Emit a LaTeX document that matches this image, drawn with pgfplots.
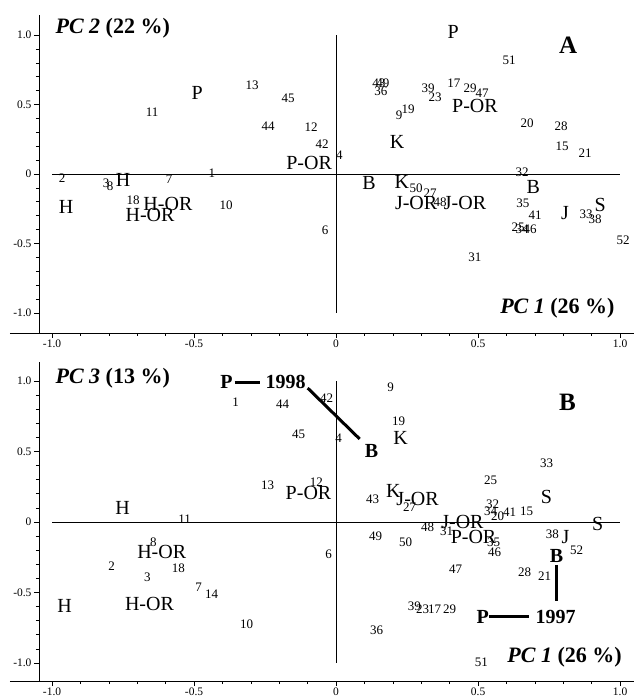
\documentclass[border=0pt]{standalone}
\usepackage{fontspec}
\setmainfont{Liberation Serif}
\usepackage{pgfplots}
\pgfplotsset{compat=1.18}
\usepackage{pgfplotstable}

\pgfplotstableread{
x y label
-0.648 0.446 11
-0.296 0.640 13
-0.169 0.547 45
-0.239 0.345 44
-0.088 0.338 12
-0.049 0.216 42
0.012 0.137 4
0.609 0.820 51
0.151 0.655 43
0.165 0.655 49
0.158 0.597 36
0.324 0.619 39
0.349 0.554 23
0.415 0.655 17
0.472 0.619 29
0.514 0.583 47
0.222 0.424 9
0.254 0.468 19
0.673 0.367 20
0.792 0.345 28
0.796 0.201 15
0.877 0.151 21
0.655 0.014 32
0.282 -0.101 50
0.331 -0.137 27
0.366 -0.201 48
0.658 -0.209 35
0.701 -0.295 41
0.880 -0.288 33
0.912 -0.324 38
0.641 -0.381 25
0.655 -0.396 34
0.683 -0.396 46
-0.039 -0.403 6
1.011 -0.475 52
0.489 -0.597 31
-0.965 -0.029 2
-0.810 -0.065 3
-0.796 -0.086 8
-0.588 -0.036 7
-0.437 0.007 1
-0.715 -0.187 18
-0.387 -0.223 10
}\numsA

\pgfplotstableread{
x y label
-0.489 0.583 P
-0.095 0.079 P-OR
0.412 1.022 P
0.489 0.489 P-OR
0.215 0.230 K
0.116 -0.065 B
0.232 -0.058 K
0.282 -0.209 J-OR
0.454 -0.209 J-OR
0.694 -0.094 B
0.806 -0.281 J
0.930 -0.223 S
-0.750 -0.043 H
-0.951 -0.237 H
-0.592 -0.216 H-OR
-0.655 -0.295 H-OR
}\letsA

\pgfplotstableread{
x y label
-0.354 0.851 1
-0.188 0.837 44
-0.132 0.624 45
-0.033 0.879 42
0.009 0.596 4
0.192 0.957 9
0.220 0.716 19
-0.241 0.262 13
-0.069 0.284 12
-0.533 0.021 11
0.741 0.418 33
0.544 0.298 25
0.129 0.163 43
0.259 0.106 27
0.551 0.128 32
0.544 0.078 34
0.569 0.043 20
0.611 0.071 41
0.671 0.078 15
0.322 -0.035 48
0.389 -0.064 31
0.555 -0.142 35
0.558 -0.213 46
0.762 -0.085 38
0.847 -0.199 52
0.139 -0.099 49
0.245 -0.142 50
-0.026 -0.227 6
0.421 -0.333 47
0.664 -0.355 28
0.734 -0.383 21
0.276 -0.596 39
0.305 -0.617 23
0.347 -0.617 17
0.400 -0.617 29
0.143 -0.766 36
0.512 -0.993 51
-0.643 -0.142 8
-0.790 -0.312 2
-0.555 -0.326 18
-0.664 -0.390 3
-0.484 -0.461 7
-0.438 -0.511 14
-0.315 -0.723 10
}\numsB

\pgfplotstableread{
x y label
0.227 0.596 K
-0.097 0.206 P-OR
-0.752 0.099 H
0.202 0.220 K
0.287 0.163 J-OR
0.741 0.177 S
0.445 0.000 J-OR
0.484 -0.106 P-OR
0.808 -0.106 J
0.921 -0.014 S
-0.614 -0.213 H-OR
-0.956 -0.596 H
-0.657 -0.582 H-OR
}\letsB

\pgfplotstableread{
x y label
-0.386 0.993 P
-0.178 0.993 1998
0.125 0.504 B
0.776 -0.241 B
0.516 -0.674 P
0.773 -0.674 1997
}\boldB

\pgfplotsset{
  pcaaxis/.style={
    scale only axis, width=595pt,
    xmin=-1.046, xmax=1.049,
    axis x line*=bottom, axis y line*=left,
    xtick={-1,-0.5,0,0.5,1}, xticklabels={-1.0,-0.5,0,0.5,1.0},
    ytick={-1,-0.5,0,0.5,1}, yticklabels={-1.0,-0.5,0,0.5,1.0},
    minor tick num=4, tick align=outside,
    major tick length=5pt, minor tick length=3pt,
    tick label style={font=\fontsize{11.5}{11.5}\selectfont},
    xticklabel style={yshift=1.5pt},
    yticklabel style={xshift=1pt},
    axis line style={line width=0.8pt},
    tick style={line width=0.6pt, black},
    clip=false,
  },
  lab/.style={only marks, mark=*, mark size=0pt, mark options={draw=none, fill=none},
    nodes near coords, point meta=explicit symbolic, color=black,
    nodes near coords style={anchor=center, inner sep=0pt, text=black, font=#1}},
}

\begin{document}
\begin{tikzpicture}
\path[use as bounding box] (0,0) rectangle (634pt,698pt);
% Panel A
\begin{axis}[pcaaxis, at={(39pt,365pt)}, anchor=south west, height=318pt, ymin=-1.144, ymax=1.144]
\draw[line width=0.8pt] (rel axis cs:-0.049,0) -- (rel axis cs:0,0);
\addplot[black, line width=0.7pt] coordinates {(-1,0) (1,0)};
\addplot[black, line width=0.7pt] coordinates {(0,-1) (0,1)};
\addplot[lab={\fontsize{13}{13}\selectfont}] table[x=x, y=y, meta=label] {\numsA};
\addplot[lab={\fontsize{20}{20}\selectfont}] table[x=x, y=y, meta=label] {\letsA};
\node[anchor=west, font=\fontsize{22}{22}\selectfont\bfseries] at (axis cs:-1.0,1.05) {\textit{PC 2} (22 \%)};
\node[anchor=east, font=\fontsize{22}{22}\selectfont\bfseries] at (axis cs:0.993,-0.964) {\textit{PC 1} (26 \%)};
\node[font=\fontsize{25}{25}\selectfont\bfseries] at (axis cs:0.817,0.928) {A};
\end{axis}
% Panel B
\begin{axis}[pcaaxis, at={(39pt,17pt)}, anchor=south west, height=319pt, ymin=-1.128, ymax=1.135]
\draw[line width=0.8pt] (rel axis cs:-0.049,0) -- (rel axis cs:0,0);
\addplot[black, line width=0.7pt] coordinates {(-1,0) (1,0)};
\addplot[black, line width=0.7pt] coordinates {(0,-1) (0,1)};
\addplot[black, line width=3pt] coordinates {(-0.357,0.993) (-0.269,0.993)};
\addplot[black, line width=3pt] coordinates {(-0.100,0.950) (0.083,0.589)};
\addplot[black, line width=3pt] coordinates {(0.776,-0.305) (0.776,-0.560)};
\addplot[black, line width=3pt] coordinates {(0.537,-0.667) (0.681,-0.667)};
\addplot[lab={\fontsize{13}{13}\selectfont}] table[x=x, y=y, meta=label] {\numsB};
\addplot[lab={\fontsize{20}{20}\selectfont}] table[x=x, y=y, meta=label] {\letsB};
\addplot[lab={\fontsize{20}{20}\selectfont\bfseries}] table[x=x, y=y, meta=label] {\boldB};
\node[anchor=west, font=\fontsize{22}{22}\selectfont\bfseries] at (axis cs:-1.0,1.021) {\textit{PC 3} (13 \%)};
\node[anchor=east, font=\fontsize{22}{22}\selectfont\bfseries] at (axis cs:1.018,-0.957) {\textit{PC 1} (26 \%)};
\node[font=\fontsize{25}{25}\selectfont\bfseries] at (axis cs:0.815,0.851) {B};
\end{axis}
\end{tikzpicture}
\end{document}
